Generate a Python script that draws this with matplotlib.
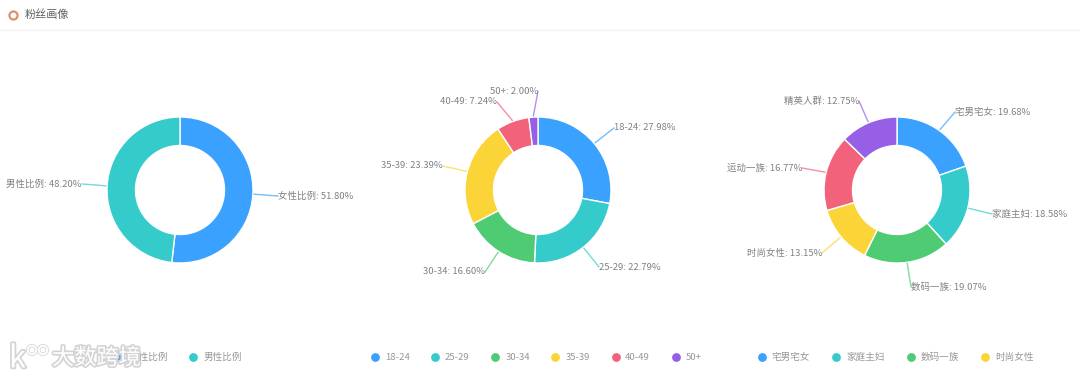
import numpy as np
from matplotlib import pyplot as plt
from matplotlib import patheffects as pe

plt.rcParams['font.family'] = ['Noto Sans CJK SC', 'DejaVu Sans']

# Data
gender_names = ['女性比例', '男性比例']
gender_values = [51.80, 48.20]
age_names = ['18-24', '25-29', '30-34', '35-39', '40-49', '50+']
age_values = [27.98, 22.79, 16.60, 23.39, 7.24, 2.00]
group_names = ['宅男宅女', '家庭主妇', '数码一族', '时尚女性', '运动一族', '精英人群']
group_values = [19.68, 18.58, 19.07, 13.15, 16.77, 12.75]

colors = ['#3AA1FF', '#36CBCB', '#4ECB73', '#FBD437', '#F2637B', '#975FE5']
text_color = '#808185'
H = 378

fig = plt.figure(figsize=(10.8, 3.78), dpi=100)
ax = fig.add_axes([0, 0, 1, 1])


def draw_donut(values, names, cx, cy, label_pos):
    # cx, cy are picture pixels, y counted from the top
    ax.pie(values, colors=colors, center=(cx, H - cy), radius=73, startangle=90,
           counterclock=False, wedgeprops=dict(width=28.5, edgecolor='white', linewidth=1))
    # Leader line from the middle of each slice to its label
    start = np.cumsum([0] + values[:-1])
    for i, (val, name) in enumerate(zip(values, names)):
        ang = np.radians((start[i] + val / 2) * 3.6)
        x0 = cx + 74 * np.sin(ang)
        y0 = cy - 74 * np.cos(ang)
        lx, ly = label_pos[i]
        ax.plot([x0, lx], [H - y0, H - ly], color=colors[i], lw=1, alpha=0.7,
                solid_capstyle='round', zorder=3)
        ha = 'left' if x0 > cx else 'right'
        ax.text(lx, H - ly, f'{name}: {val:.2f}%', ha=ha, va='center', fontsize=6.8,
                color=text_color, zorder=4)


def draw_legend(names, dot_x, text_x):
    for i, name in enumerate(names):
        ax.scatter(dot_x[i], H - 357, s=40, color=colors[i], linewidths=0, zorder=3)
        ax.text(text_x[i], H - 357.5, name, ha='left', va='center', fontsize=6.9,
                color='#97989c', zorder=3)


draw_donut(gender_values, gender_names, 180, 190, [(278, 196), (82, 184)])
draw_donut(age_values, age_names, 538, 190,
           [(614, 128), (599, 267), (485, 272), (443, 166), (497, 102), (538, 91)])
draw_donut(group_values, group_names, 897, 190,
           [(955, 112), (992, 214), (911, 287), (822, 253), (802, 168), (859, 101)])

draw_legend(gender_names, [117, 193], [130, 204])
draw_legend(age_names, [375, 435, 494.5, 555, 616, 676], [385, 445, 505.5, 566, 625, 686])
draw_legend(group_names[:4], [762, 836, 910.5, 985], [772, 846, 920.5, 995])

# Header
ax.scatter(13, H - 15, s=34, facecolors='white', edgecolors='#E0906F', linewidths=1.6, zorder=3)
ax.text(25, H - 15, '粉丝画像', ha='left', va='center', fontsize=8, color='#5f6064')
ax.plot([0, 1080], [H - 30, H - 30], color='#f3f3f5', lw=1)

# Watermark
halo = [pe.withStroke(linewidth=2.5, foreground='#d4d4d4')]
ax.text(52, H - 358, '大数跨境', ha='left', va='center', fontsize=16, color='white',
        zorder=6, path_effects=halo)
ax.text(9, H - 359, 'k', ha='left', va='center', fontsize=22, color='white',
        zorder=6, path_effects=halo)
for x in [32, 43]:
    ax.scatter(x, H - 350, s=38, facecolors='none', edgecolors='white', linewidths=1.4, zorder=6,
               path_effects=halo)

ax.set_xlim(0, 1080)
ax.set_ylim(0, H)
ax.set_axis_off()
fig.savefig('out.png', dpi=100)
